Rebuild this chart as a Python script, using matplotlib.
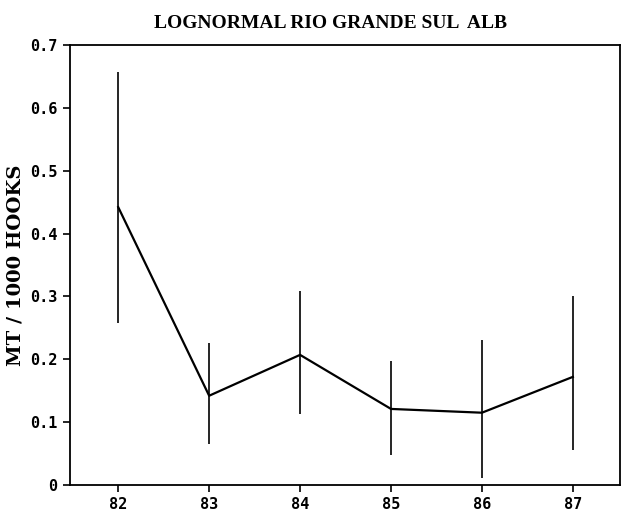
import numpy as np
from matplotlib import pyplot as plt

# Data
years = [82, 83, 84, 85, 86, 87]
year_labels = ["82", "83", "84", "85", "86", "87"]
cpue = [0.442, 0.142, 0.207, 0.121, 0.115, 0.172]
upper = [0.657, 0.226, 0.308, 0.198, 0.230, 0.300]
lower = [0.258, 0.065, 0.113, 0.048, 0.011, 0.056]

fig = plt.figure(figsize=(6.23, 5.27), dpi=100)
ax = fig.add_axes([0.1124, 0.0797, 0.883, 0.835])

yerr = [np.array(cpue) - np.array(lower), np.array(upper) - np.array(cpue)]
ax.errorbar(years, cpue, yerr=yerr, color="black", linewidth=1.6,
             elinewidth=1.2, capsize=0)

ax.set_xlim(81.47, 87.52)
ax.set_ylim(0, 0.7)
ax.set_xticks(years)
ax.set_xticklabels(year_labels)
ax.set_yticks([0, 0.1, 0.2, 0.3, 0.4, 0.5, 0.6, 0.7])
ax.set_yticklabels(["0", "0.1", "0.2", "0.3", "0.4", "0.5", "0.6", "0.7"])
for lab in ax.get_xticklabels() + ax.get_yticklabels():
    lab.set_fontfamily("DejaVu Sans Mono")
    lab.set_fontweight("bold")
    lab.set_fontsize(11)
ax.tick_params(direction="out", length=5, width=1.2, pad=4)
for s in ax.spines.values():
    s.set_linewidth(1.3)

ax.set_ylabel("MT / 1000 HOOKS", fontfamily="DejaVu Serif",
              fontweight="bold", fontsize=14, labelpad=4)
fig.text(0.53, 0.955, "LOGNORMAL RIO GRANDE SUL  ALB",
         fontfamily="Liberation Serif", fontweight="bold", fontsize=14,
         ha="center", va="center")

fig.savefig("out.png", dpi=100)
